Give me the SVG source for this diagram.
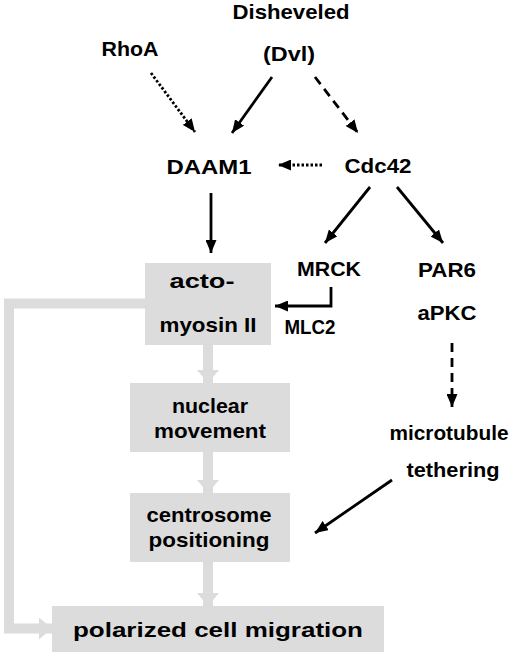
<svg xmlns="http://www.w3.org/2000/svg" width="525" height="656" viewBox="0 0 525 656">
<style>
text{font-family:"Liberation Sans",Arial,sans-serif;font-weight:bold;fill:#000;text-anchor:middle;font-size:21px}
.box{fill:#dcdcdc}
.blk{stroke:#000;stroke-width:2.8;fill:none;marker-end:url(#ah)}
.dot{stroke-dasharray:2.5,2}
.dash{stroke-dasharray:9,6}
.gry{stroke:#dcdcdc;stroke-width:10;fill:none;marker-end:url(#gh)}
</style>
<defs>
<marker id="ah" markerUnits="userSpaceOnUse" markerWidth="13" markerHeight="11" refX="13" refY="5.5" orient="auto"><path d="M0,0 L13,5.5 L0,11 z" fill="#000"/></marker>
<marker id="gh" markerUnits="userSpaceOnUse" markerWidth="13" markerHeight="22" refX="13" refY="11" orient="auto"><path d="M0,0 L13,11 L0,22 z" fill="#dcdcdc"/></marker>
</defs>
<g id="connectors">
<path class="gry" d="M145,303.5 H9 V628.5 H52" stroke-linejoin="miter"/>
<line class="gry" x1="208" y1="345" x2="208" y2="383"/>
<line class="gry" x1="208" y1="452" x2="208" y2="493"/>
<line class="gry" x1="208" y1="562" x2="208" y2="606"/>
<line class="blk dot" x1="151" y1="73" x2="195" y2="132"/>
<line class="blk" x1="272" y1="77" x2="232" y2="133"/>
<line class="blk dash" x1="315" y1="77" x2="358" y2="133"/>
<line class="blk dot" x1="322" y1="165" x2="278" y2="165"/>
<line class="blk" x1="211" y1="193" x2="211" y2="253"/>
<line class="blk" x1="370" y1="187" x2="325" y2="243"/>
<line class="blk" x1="397" y1="187" x2="443" y2="243"/>
<path class="blk" d="M331,287 V306 H275"/>
<line class="blk dash" x1="452" y1="343" x2="452" y2="407"/>
<line class="blk" x1="392" y1="480" x2="315" y2="533"/>
</g>
<g id="dvl"><text x="291" y="19" textLength="117" lengthAdjust="spacingAndGlyphs">Disheveled</text><text x="289" y="61" textLength="52" lengthAdjust="spacingAndGlyphs">(Dvl)</text></g>
<g id="rhoa"><text x="130" y="56" textLength="57" lengthAdjust="spacingAndGlyphs">RhoA</text></g>
<g id="daam1"><text x="209" y="174" font-size="25" textLength="85" lengthAdjust="spacingAndGlyphs">DAAM1</text></g>
<g id="cdc42"><text x="378" y="173" textLength="67" lengthAdjust="spacingAndGlyphs">Cdc42</text></g>
<g id="mrck"><text x="329" y="276" textLength="64" lengthAdjust="spacingAndGlyphs">MRCK</text></g>
<g id="mlc2"><text x="310" y="334" font-size="18" textLength="51" lengthAdjust="spacingAndGlyphs">MLC2</text></g>
<g id="par6"><text x="447" y="277" textLength="58" lengthAdjust="spacingAndGlyphs">PAR6</text><text x="447" y="320" textLength="59" lengthAdjust="spacingAndGlyphs">aPKC</text></g>
<g id="microtubule"><text x="449" y="440" textLength="119" lengthAdjust="spacingAndGlyphs">microtubule</text><text x="453" y="477" textLength="93" lengthAdjust="spacingAndGlyphs">tethering</text></g>
<g id="actomyosin"><rect class="box" x="145" y="263" width="126" height="82"/><text x="202" y="288" textLength="65" lengthAdjust="spacingAndGlyphs">acto-</text><text x="208" y="332" textLength="97" lengthAdjust="spacingAndGlyphs">myosin II</text></g>
<g id="nuclear"><rect class="box" x="130" y="383" width="160" height="69"/><text x="210" y="413" textLength="76" lengthAdjust="spacingAndGlyphs">nuclear</text><text x="210" y="438" textLength="112" lengthAdjust="spacingAndGlyphs">movement</text></g>
<g id="centrosome"><rect class="box" x="130" y="493" width="160" height="69"/><text x="209" y="522" textLength="125" lengthAdjust="spacingAndGlyphs">centrosome</text><text x="209" y="547" textLength="121" lengthAdjust="spacingAndGlyphs">positioning</text></g>
<g id="migration"><rect class="box" x="52" y="606" width="332" height="46"/><text x="218" y="637" font-size="27" textLength="290" lengthAdjust="spacingAndGlyphs">polarized cell migration</text></g>
</svg>
